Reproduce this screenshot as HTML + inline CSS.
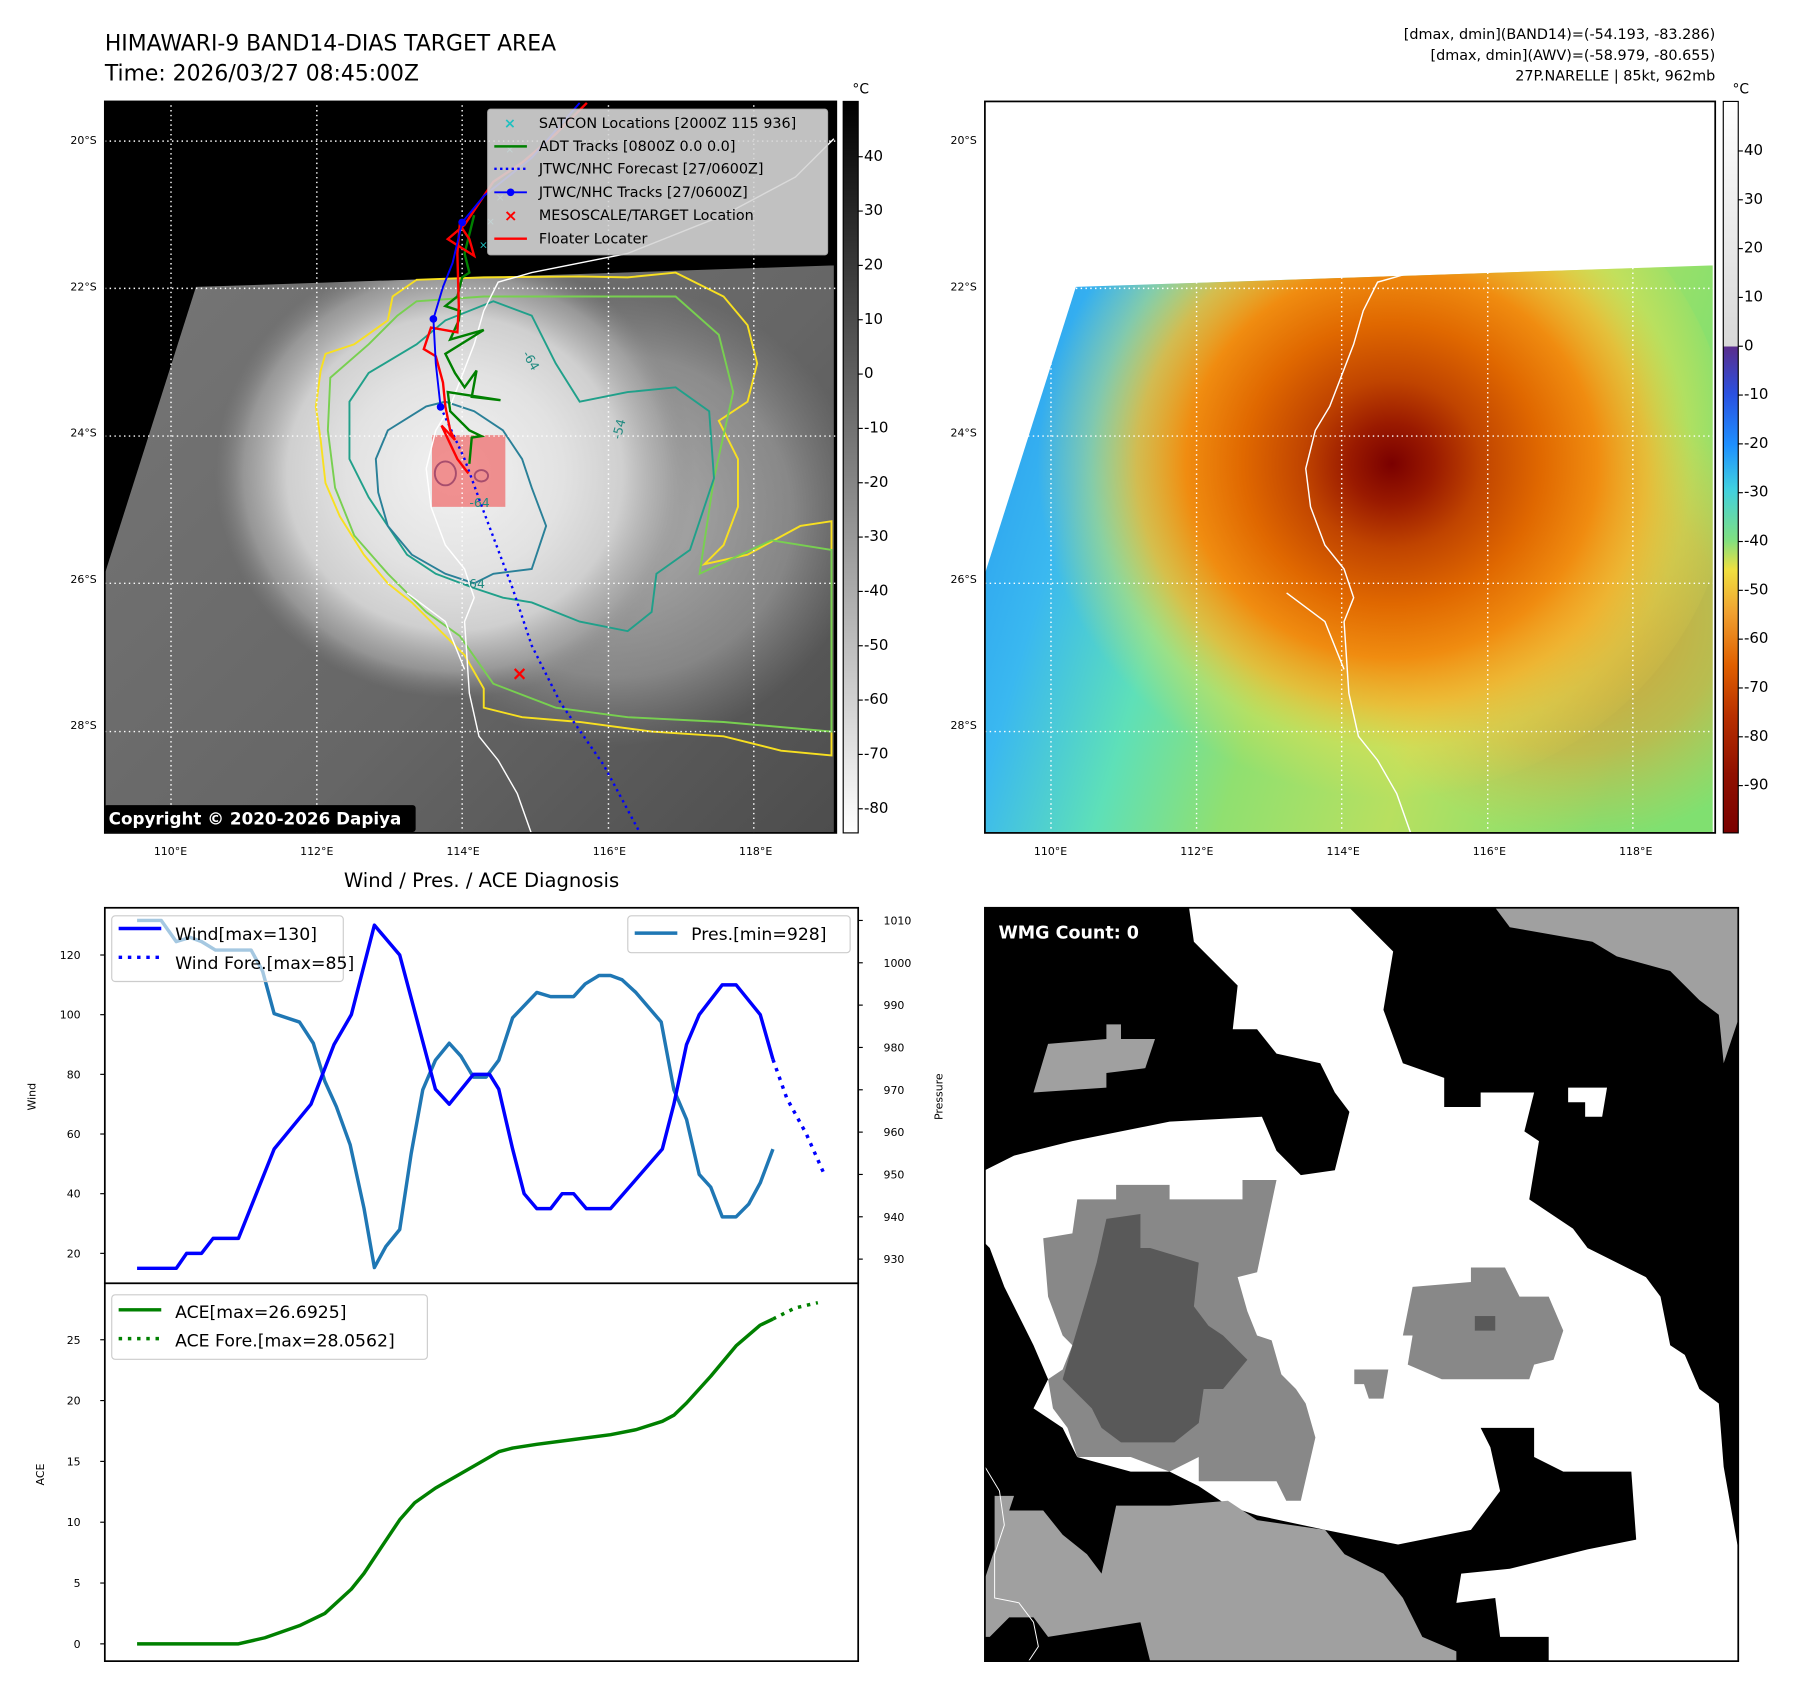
<!DOCTYPE html>
<html><head><meta charset="utf-8">
<style>
html,body{margin:0;padding:0;background:#fff;}
svg{display:block;font-family:"DejaVu Sans","Liberation Sans",sans-serif;}
</style></head>
<body>
<svg id="root" width="1797" height="1690" viewBox="0 0 1560 1467" xmlns="http://www.w3.org/2000/svg">
<defs>
  <radialGradient id="blob" cx="0.5" cy="0.5" r="0.5">
    <stop offset="0" stop-color="#f2f2f2"/>
    <stop offset="0.45" stop-color="#e2e2e2"/>
    <stop offset="0.7" stop-color="#cfcfcf"/>
    <stop offset="0.88" stop-color="#a8a8a8" stop-opacity="0.7"/>
    <stop offset="1" stop-color="#888" stop-opacity="0"/>
  </radialGradient>
  <radialGradient id="blob2" cx="0.5" cy="0.5" r="0.5">
    <stop offset="0" stop-color="#c8c8c8" stop-opacity="0.8"/>
    <stop offset="0.7" stop-color="#b0b0b0" stop-opacity="0.5"/>
    <stop offset="1" stop-color="#999" stop-opacity="0"/>
  </radialGradient>
  <linearGradient id="swathGray" x1="0" y1="0" x2="1" y2="1">
    <stop offset="0" stop-color="#7a7a7a"/>
    <stop offset="0.6" stop-color="#666"/>
    <stop offset="1" stop-color="#4a4a4a"/>
  </linearGradient>
  <linearGradient id="swathColor" x1="0" y1="0" x2="1" y2="0.3">
    <stop offset="0" stop-color="#1e8cf0"/>
    <stop offset="0.25" stop-color="#3ab8f0"/>
    <stop offset="0.4" stop-color="#5ee0b8"/>
    <stop offset="0.55" stop-color="#90e070"/>
    <stop offset="0.75" stop-color="#b8e060"/>
    <stop offset="1" stop-color="#80e070"/>
  </linearGradient>
  <radialGradient id="storm" cx="0.52" cy="0.5" r="0.5">
    <stop offset="0" stop-color="#7a0000"/>
    <stop offset="0.12" stop-color="#9a1a00"/>
    <stop offset="0.25" stop-color="#c04400"/>
    <stop offset="0.42" stop-color="#e06800"/>
    <stop offset="0.58" stop-color="#f08c10"/>
    <stop offset="0.72" stop-color="#f4b830" stop-opacity="0.8"/>
    <stop offset="0.85" stop-color="#e8e050" stop-opacity="0.4"/>
    <stop offset="1" stop-color="#e8e050" stop-opacity="0"/>
  </radialGradient>
  <radialGradient id="orangeSoft" cx="0.5" cy="0.5" r="0.5">
    <stop offset="0" stop-color="#f08820" stop-opacity="0.8"/>
    <stop offset="0.6" stop-color="#f09a30" stop-opacity="0.5"/>
    <stop offset="1" stop-color="#f0b040" stop-opacity="0"/>
  </radialGradient>
  <linearGradient id="cbGray" x1="0" y1="0" x2="0" y2="1">
    <stop offset="0" stop-color="#000"/>
    <stop offset="1" stop-color="#fff"/>
  </linearGradient>
  <linearGradient id="cbColor" x1="0" y1="88" x2="0" y2="723" gradientUnits="userSpaceOnUse">
    <stop offset="0" stop-color="#ffffff"/>
    <stop offset="0.335" stop-color="#d8d8d8"/>
    <stop offset="0.335" stop-color="#5a2d8c"/>
    <stop offset="0.4" stop-color="#2a50e0"/>
    <stop offset="0.47" stop-color="#1e90ff"/>
    <stop offset="0.53" stop-color="#40d0e0"/>
    <stop offset="0.6" stop-color="#80e080"/>
    <stop offset="0.64" stop-color="#f0e040"/>
    <stop offset="0.7" stop-color="#f0a030"/>
    <stop offset="0.77" stop-color="#e06000"/>
    <stop offset="0.84" stop-color="#b83000"/>
    <stop offset="0.92" stop-color="#901000"/>
    <stop offset="1" stop-color="#7a0000"/>
  </linearGradient>
  <clipPath id="clipW"><rect x="91" y="788" width="654" height="326"/></clipPath>
  <clipPath id="clipA"><rect x="91" y="1114" width="654" height="328"/></clipPath>
</defs>

<text x="91" y="44" font-size="19">HIMAWARI-9 BAND14-DIAS TARGET AREA</text>
<text x="91" y="70" font-size="19">Time: 2026/03/27 08:45:00Z</text>
<g font-size="12.5" text-anchor="end">
  <text x="1489" y="34">[dmax, dmin](BAND14)=(-54.193, -83.286)</text>
  <text x="1489" y="52">[dmax, dmin](AWV)=(-58.979, -80.655)</text>
  <text x="1489" y="70">27P.NARELLE | 85kt, 962mb</text>
</g>

<svg x="91" y="88" width="635" height="635" viewBox="10 12 1525 1530" preserveAspectRatio="none">
  <clipPath id="swClipL"><polygon points="200,400 1530,355 1530,1545 10,1545 10,1000"/></clipPath>
  <rect x="0" y="0" width="1600" height="1600" fill="#000"/>
  <g clip-path="url(#swClipL)">
    <rect x="0" y="0" width="1600" height="1600" fill="url(#swathGray)"/>
    <ellipse cx="1080" cy="880" rx="520" ry="480" fill="url(#blob2)"/>
    <ellipse cx="740" cy="790" rx="500" ry="470" fill="url(#blob)"/>
  </g>
  <g fill="none" stroke-width="4">
    <path d="M460,575 L470,540 530,520 600,470 610,420 660,385 800,380 1000,378 1100,380 1200,370 1300,420 1350,480 1370,560 1350,640 1290,680 1330,760 1330,860 1300,940 1260,980 1350,960 1460,900 1525,890 1525,1380 1420,1370 1300,1340 1150,1330 1000,1310 880,1300 800,1280 800,1240 760,1170 700,1110 650,1060 600,1020 550,960 500,880 470,810 460,720 450,650 Z" stroke="#f8e020"/>
    <path d="M480,590 L560,520 620,460 660,430 800,420 1000,420 1200,420 1290,500 1320,620 1280,800 1250,1000 1400,930 1525,950 1525,1330 1300,1310 1100,1300 950,1280 820,1230 750,1130 680,1080 600,1000 530,920 490,820 475,700 Z" stroke="#78d050"/>
    <path d="M520,640 L560,580 660,520 720,470 820,430 900,460 950,560 1000,640 1100,620 1200,610 1270,660 1280,800 1230,950 1160,1000 1150,1080 1100,1120 1000,1100 900,1060 840,1050 780,1030 700,1000 640,960 600,900 560,840 520,760 Z" stroke="#20a08a"/>
    <path d="M575,760 L600,700 680,650 720,640 780,660 840,700 880,760 900,820 930,900 900,990 820,1000 780,1020 720,1000 650,960 600,900 580,830 Z" stroke="#2a8098"/>
    <ellipse cx="720" cy="790" rx="22" ry="25" stroke="#3a4a9a"/>
    <ellipse cx="795" cy="795" rx="14" ry="12" stroke="#3a4a9a"/>
  </g>
  <rect x="692" y="710" width="153" height="150" fill="rgb(240,80,80)" opacity="0.6"/>
  <path d="M1530,90 L1450,170 1300,250 1100,330 900,370 830,390 800,450 780,520 730,650 700,700 680,780 690,860 720,940 760,990 780,1050 760,1100 770,1250 790,1340 830,1390 870,1460 900,1545 M640,1040 L720,1100 760,1200" fill="none" stroke="#fff" stroke-width="3"/>
  <g stroke="#fff" stroke-width="3" stroke-dasharray="3,7">
    <line x1="148" y1="0" x2="148" y2="1550"/><line x1="452" y1="0" x2="452" y2="1550"/><line x1="755" y1="0" x2="755" y2="1550"/><line x1="1060" y1="0" x2="1060" y2="1550"/><line x1="1363" y1="0" x2="1363" y2="1550"/>
    <line x1="0" y1="95" x2="1540" y2="95"/><line x1="0" y1="403" x2="1540" y2="403"/><line x1="0" y1="712" x2="1540" y2="712"/><line x1="0" y1="1020" x2="1540" y2="1020"/><line x1="0" y1="1330" x2="1540" y2="1330"/>
  </g>
  <polyline points="710,651 760,760 800,870 860,1030 900,1150 960,1270 1050,1400 1130,1550" fill="none" stroke="#00f" stroke-width="5" stroke-dasharray="5,8"/>
  <polyline points="780,250 760,330 770,370 755,380 745,420 720,440 750,450 748,470 730,510 800,490 720,540 740,580 760,610 785,575 775,630 835,637 725,620 730,660 770,700 795,712 775,715 770,770" fill="none" stroke="#008000" stroke-width="5"/>
  <polyline points="1015,15 950,80 880,140 820,180 800,210 760,270 725,300 780,335 770,300 750,270 745,330 748,440 745,495 690,485 675,530 700,545 715,600 720,650 730,700 740,720 712,690 745,760 768,790" fill="none" stroke="#f00" stroke-width="5"/>
  <polyline points="1000,15 900,130 800,210 755,265 735,350 715,400 695,467 700,560 710,651" fill="none" stroke="#00f" stroke-width="4"/>
  <circle cx="755" cy="265" r="8" fill="#00f"/><circle cx="695" cy="467" r="8" fill="#00f"/><circle cx="710" cy="651" r="8" fill="#00f"/>
  <g fill="#20c0c0" font-size="22"><text x="790" y="320">×</text><text x="805" y="270">×</text><text x="825" y="220">×</text><text x="845" y="120">×</text></g>
  <text x="858" y="1222" font-size="40" font-weight="bold" fill="#f00">×</text>
  <g fill="#208a80" font-size="26"><text x="880" y="540" transform="rotate(60 880 540)">-64</text><text x="1085" y="720" transform="rotate(-75 1085 720)">-54</text><text x="760" y="1030">-64</text><text x="770" y="860">-64</text></g>
  <g>
    <rect x="808" y="28" width="709" height="305" rx="6" fill="#d6d6d6" opacity="0.9" stroke="#bbb" stroke-width="2"/>
    <g font-size="30" fill="#000">
      <text x="915" y="68">SATCON Locations [2000Z 115 936]</text>
      <text x="915" y="116">ADT Tracks [0800Z 0.0 0.0]</text>
      <text x="915" y="163">JTWC/NHC Forecast [27/0600Z]</text>
      <text x="915" y="212">JTWC/NHC Tracks [27/0600Z]</text>
      <text x="915" y="260">MESOSCALE/TARGET Location</text>
      <text x="915" y="309">Floater Locater</text>
    </g>
    <text x="842" y="68" font-size="30" fill="#20c0c0" font-weight="bold">×</text>
    <line x1="822" y1="106" x2="890" y2="106" stroke="#008000" stroke-width="5"/>
    <line x1="822" y1="153" x2="890" y2="153" stroke="#00f" stroke-width="5" stroke-dasharray="5,7"/>
    <line x1="822" y1="202" x2="890" y2="202" stroke="#00f" stroke-width="4"/><circle cx="856" cy="202" r="8" fill="#00f"/>
    <text x="842" y="262" font-size="34" fill="#f00" font-weight="bold">×</text>
    <line x1="822" y1="299" x2="890" y2="299" stroke="#f00" stroke-width="5"/>
  </g>
  <rect x="8" y="1484" width="650" height="56" rx="6" fill="#000"/>
  <text x="18" y="1524" font-size="35" font-weight="bold" fill="#fff">Copyright © 2020-2026 Dapiya</text>
</svg>
<rect x="91" y="88" width="635" height="635" fill="none" stroke="#000" stroke-width="1.5"/>

<svg x="855" y="88" width="634" height="635" viewBox="10 12 1525 1530" preserveAspectRatio="none">
  <rect x="0" y="0" width="1600" height="1600" fill="#fff"/>
  <clipPath id="swClip"><polygon points="200,400 1530,355 1530,1545 10,1545 10,1000"/></clipPath>
  <g clip-path="url(#swClip)">
    <rect x="0" y="0" width="1600" height="1600" fill="url(#swathColor)"/>
    <ellipse cx="1250" cy="1100" rx="500" ry="460" fill="url(#orangeSoft)"/>
    <ellipse cx="830" cy="770" rx="740" ry="700" fill="url(#storm)"/>
  </g>
  <path d="M1530,90 L1450,170 1300,250 1100,330 900,370 830,390 800,450 780,520 730,650 700,700 680,780 690,860 720,940 760,990 780,1050 760,1100 770,1250 790,1340 830,1390 870,1460 900,1545 M640,1040 L720,1100 760,1200" fill="none" stroke="#fff" stroke-width="3"/>
  <g stroke="#fff" stroke-width="3" stroke-dasharray="3,7">
    <line x1="148" y1="0" x2="148" y2="1550"/><line x1="452" y1="0" x2="452" y2="1550"/><line x1="755" y1="0" x2="755" y2="1550"/><line x1="1060" y1="0" x2="1060" y2="1550"/><line x1="1363" y1="0" x2="1363" y2="1550"/>
    <line x1="0" y1="95" x2="1540" y2="95"/><line x1="0" y1="403" x2="1540" y2="403"/><line x1="0" y1="712" x2="1540" y2="712"/><line x1="0" y1="1020" x2="1540" y2="1020"/><line x1="0" y1="1330" x2="1540" y2="1330"/>
  </g>
</svg>
<rect x="855" y="88" width="634" height="635" fill="none" stroke="#000" stroke-width="1.5"/>

<g font-size="9.5" fill="#000">
  <g text-anchor="end">
    <text x="84" y="125">20°S</text><text x="84" y="252">22°S</text><text x="84" y="379">24°S</text><text x="84" y="506">26°S</text><text x="84" y="633">28°S</text>
    <text x="848" y="125">20°S</text><text x="848" y="252">22°S</text><text x="848" y="379">24°S</text><text x="848" y="506">26°S</text><text x="848" y="633">28°S</text>
  </g>
  <g text-anchor="middle">
    <text x="148" y="742">110°E</text><text x="275" y="742">112°E</text><text x="402" y="742">114°E</text><text x="529" y="742">116°E</text><text x="656" y="742">118°E</text>
    <text x="912" y="742">110°E</text><text x="1039" y="742">112°E</text><text x="1166" y="742">114°E</text><text x="1293" y="742">116°E</text><text x="1420" y="742">118°E</text>
  </g>
</g>

<rect x="732" y="88" width="13" height="635" fill="url(#cbGray)" stroke="#000" stroke-width="1"/>
<rect x="1496" y="88" width="13" height="635" fill="url(#cbColor)" stroke="#000" stroke-width="1"/>
<text x="740" y="81" font-size="12">°C</text>
<text x="1504" y="81" font-size="12">°C</text>
<g id="cbTicks" font-size="13"></g>

<text x="418" y="770" font-size="17" text-anchor="middle">Wind / Pres. / ACE Diagnosis</text>
<rect x="91" y="788" width="654" height="326" fill="#fff" stroke="#000" stroke-width="1.5"/>
<rect x="91" y="1114" width="654" height="328" fill="#fff" stroke="#000" stroke-width="1.5"/>
<g id="chart"></g>
<text x="31" y="952" font-size="9.5" text-anchor="middle" transform="rotate(-90 31 952)">Wind</text>
<text x="818" y="952" font-size="9.5" text-anchor="middle" transform="rotate(-90 818 952)">Pressure</text>
<text x="38" y="1280" font-size="9.5" text-anchor="middle" transform="rotate(-90 38 1280)">ACE</text>

<g>
  <rect x="97" y="795" width="201" height="57" rx="3" fill="#fff" fill-opacity="0.6" stroke="#ccc"/>
  <line x1="103" y1="806" x2="140" y2="806" stroke="#00f" stroke-width="3"/>
  <line x1="103" y1="831" x2="140" y2="831" stroke="#00f" stroke-width="3" stroke-dasharray="3,5"/>
  <text x="152" y="816" font-size="15">Wind[max=130]</text>
  <text x="152" y="841" font-size="15">Wind Fore.[max=85]</text>
</g>
<g>
  <rect x="545" y="795" width="193" height="32" rx="3" fill="#fff" fill-opacity="0.8" stroke="#ccc"/>
  <line x1="551" y1="810" x2="588" y2="810" stroke="#1f77b4" stroke-width="3"/>
  <text x="600" y="816" font-size="15">Pres.[min=928]</text>
</g>
<g>
  <rect x="97" y="1124" width="274" height="56" rx="3" fill="#fff" fill-opacity="0.8" stroke="#ccc"/>
  <line x1="103" y1="1137" x2="140" y2="1137" stroke="#008000" stroke-width="3"/>
  <line x1="103" y1="1162" x2="140" y2="1162" stroke="#008000" stroke-width="3" stroke-dasharray="3,5"/>
  <text x="152" y="1144" font-size="15">ACE[max=26.6925]</text>
  <text x="152" y="1169" font-size="15">ACE Fore.[max=28.0562]</text>
</g>

<svg x="855" y="788" width="654" height="654" viewBox="0 0 1550 1550" preserveAspectRatio="none">
  <rect x="0" y="0" width="1550" height="1550" fill="#000"/>
  <polygon fill="#fff" points="420,0 750,0 780,30 840,90 820,210 860,320 945,350 945,410 1020,410 1020,380 1130,380 1110,460 1140,480 1120,600 1210,660 1240,700 1360,760 1390,800 1410,900 1440,920 1470,990 1510,1020 1520,1150 1550,1320 1550,1550 1160,1550 1160,1500 1060,1500 1050,1420 970,1430 980,1370 1080,1360 1240,1320 1340,1300 1330,1160 1190,1160 1130,1130 1130,1070 1020,1070 1040,1110 1060,1200 1000,1280 850,1310 700,1280 560,1250 500,1230 440,1190 380,1160 300,1160 190,1130 160,1070 100,1030 130,970 100,900 80,860 40,780 10,700 0,690 0,540 60,510 180,480 380,440 570,430 600,500 650,550 720,540 750,420 720,380 690,320 600,300 560,250 510,250 520,160 460,100 430,70"/>
  <polygon fill="#fff" points="1200,370 1280,370 1270,430 1235,430 1235,400 1200,400"/>
  <polygon fill="#a0a0a0" points="1050,0 1550,0 1550,230 1520,320 1510,220 1470,190 1410,130 1300,100 1250,70 1080,40"/>
  <polygon fill="#a0a0a0" points="130,280 250,270 250,240 280,240 280,270 350,270 330,330 250,340 250,370 100,380"/>
  <polygon fill="#888" points="270,570 380,570 380,600 530,600 530,560 600,560 560,750 520,760 540,830 560,880 590,890 610,960 640,990 660,1020 680,1090 650,1220 620,1220 600,1180 440,1180 440,1130 380,1160 300,1130 190,1130 170,1070 140,1030 130,970 160,950 180,900 160,880 130,800 120,680 180,670 190,600 270,600"/>
  <polygon fill="#595959" points="250,640 320,630 320,700 340,700 440,730 430,820 460,860 490,880 540,930 490,990 450,990 440,1060 390,1100 280,1100 240,1070 220,1030 190,1000 160,970 180,900 210,800 230,730"/>
  <polygon fill="#888" points="880,780 1000,770 1000,740 1070,740 1100,800 1160,800 1190,870 1170,930 1130,940 1120,970 940,970 870,940 880,880 860,880"/>
  <rect x="1008" y="840" width="42" height="30" fill="#595959"/>
  <polygon fill="#888" points="760,950 830,950 820,1010 790,1010 780,980 760,980"/>
  <polygon fill="#a0a0a0" points="20,1210 60,1210 50,1240 120,1240 160,1290 210,1330 240,1370 270,1230 380,1230 500,1220 560,1260 700,1280 740,1330 820,1370 860,1420 900,1500 970,1530 970,1550 340,1550 320,1470 130,1500 100,1460 50,1460 10,1500 0,1500 0,1380 20,1320"/>
  <polyline points="0,1150 30,1200 40,1270 20,1330 20,1420 70,1430 100,1470 110,1520 90,1550" fill="none" stroke="#fff" stroke-width="2"/>
  <rect x="10" y="25" width="390" height="55" rx="6" fill="#000"/>
  <text x="28" y="63" font-size="36" font-weight="bold" fill="#fff">WMG Count: 0</text>
</svg>
<rect x="855" y="788" width="654" height="654" fill="none" stroke="#000" stroke-width="1.5"/>
</svg>

<script>
const windTimes = [0,34,43,56,66,88,119,151,171,186,206,228,259,271,292,306,314,326,336,347,359,369,379,390,411,456,466,477,488,508,520,541,552];
const windValues = [15,15,20,20,25,25,55,70,90,100,130,120,75,70,80,80,75,55,40,35,35,40,40,35,35,55,70,90,100,110,110,100,85];
const windForeTimes = [552,564,581,596];
const windForeValues = [85,72,60,47];
const presTimes = [0,21,34,46,56,68,99,109,119,141,153,163,173,185,197,206,216,228,238,248,259,271,281,292,303,314,326,347,359,379,389,401,411,421,433,455,466,477,488,498,508,520,531,541,552];
const presValues = [1010,1010,1005,1006,1005,1003,1003,998,988,986,981,972,966,957,942,928,933,937,955,970,977,981,978,973,973,977,987,993,992,992,995,997,997,996,993,986,970,963,950,947,940,940,943,948,956];
const aceTimes = [0,88,111,141,163,186,197,216,228,241,259,281,314,326,347,379,411,433,456,466,477,498,520,541,552];
const aceValues = [0,0,0.5,1.5,2.5,4.5,5.8,8.5,10.2,11.6,12.8,14,15.8,16.1,16.4,16.8,17.2,17.6,18.3,18.8,19.8,22,24.5,26.2,26.7];
const aceForeTimes = [552,571,591];
const aceForeValues = [26.7,27.6,28.05];
const windTicks = [20,40,60,80,100,120];
const presTicks = [930,940,950,960,970,980,990,1000,1010];
const aceTicks = [0,5,10,15,20,25];
const grayCbTicks = [40,30,20,10,0,-10,-20,-30,-40,-50,-60,-70,-80];
const colorCbTicks = [40,30,20,10,0,-10,-20,-30,-40,-50,-60,-70,-80,-90];

const NS = "http://www.w3.org/2000/svg";
const xScale = t => 119 + t;
const yWind = v => 1088 - (v - 20) * 2.59;
const yPres = v => 799 + (1010 - v) * 3.675;
const yAce = v => 1427 - v * 10.56;
const yCbGray = v => 136 + (40 - v) * 4.717;
const yCbColor = v => 131 + (40 - v) * 4.238;

const chart = document.getElementById('chart');
function mk(tag, attrs, parent) {
  const e = document.createElementNS(NS, tag);
  for (const k in attrs) e.setAttribute(k, attrs[k]);
  parent.appendChild(e);
  return e;
}
function line(times, vals, ys, color, dash, clip, name) {
  const pts = times.map((t, i) => xScale(t).toFixed(1) + ',' + ys(vals[i]).toFixed(1)).join(' ');
  const p = mk('polyline', {points: pts, fill: 'none', stroke: color, 'stroke-width': 3, 'stroke-linejoin': 'round', 'clip-path': 'url(#' + clip + ')'}, chart);
  if (dash) p.setAttribute('stroke-dasharray', dash);
  
  
}
line(presTimes, presValues, yPres, '#1f77b4', null, 'clipW', 'pressure-line');
line(windTimes, windValues, yWind, '#0000ff', null, 'clipW', 'wind-line');
line(windForeTimes, windForeValues, yWind, '#0000ff', '3,5', 'clipW', 'wind-forecast-line');
line(aceTimes, aceValues, yAce, '#008000', null, 'clipA', 'ace-line');
line(aceForeTimes, aceForeValues, yAce, '#008000', '3,5', 'clipA', 'ace-forecast-line');

function ticks(arr, ys, xTick, xText, anchor, fs, parent, name) {
  arr.forEach(v => {
    const y = ys(v);
    const l = mk('line', {x1: xTick, x2: xTick + (anchor === 'end' ? -4 : 4), y1: y, y2: y, stroke: '#000', 'stroke-width': 1}, parent);
    
    
    const t = mk('text', {x: xText, y: y + 3.5, 'font-size': fs, 'text-anchor': anchor}, parent);
    
    
    t.textContent = v;
  });
}
ticks(windTicks, yWind, 91, 70, 'end', 9.5, chart, 'wind-y');
ticks(presTicks, yPres, 745, 767, 'start', 9.5, chart, 'pressure-y');
ticks(aceTicks, yAce, 91, 70, 'end', 9.5, chart, 'ace-y');
const cb = document.getElementById('cbTicks');
ticks(grayCbTicks, yCbGray, 745, 750, 'start', 13, cb, 'gray-colorbar');
ticks(colorCbTicks, yCbColor, 1509, 1514, 'start', 13, cb, 'color-colorbar');
</script>
</body></html>
